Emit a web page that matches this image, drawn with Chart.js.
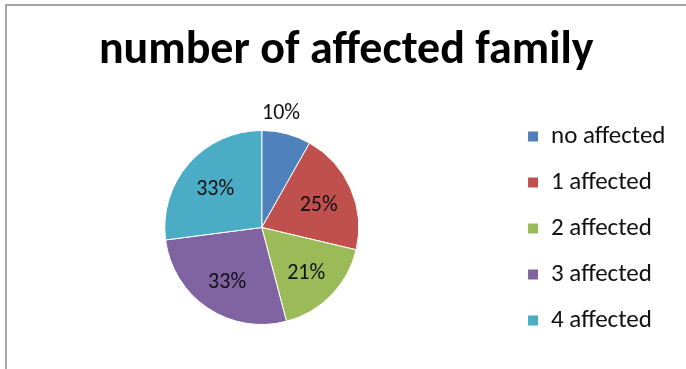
<!DOCTYPE html>
<html>
<head>
<meta charset="utf-8">
<script src="https://cdn.jsdelivr.net/npm/chart.js@4/dist/chart.umd.min.js"></script>
<style>
  html, body { margin: 0; padding: 0; background: #fff; }
  #wrap { position: relative; width: 686px; height: 369px; overflow: hidden; }
  #frame { position: absolute; left: 5px; top: 4px; right: -10px; bottom: -10px;
           border-top: 2px solid #a5a5a5; border-left: 2px solid #a5a5a5; }
  canvas { position: absolute; left: 0; top: 0; }
</style>
</head>
<body>
<div id="wrap">
  <div id="frame"></div>
  <canvas id="chart" width="686" height="369"></canvas>
</div>
<script>
// Families grouped by how many members were affected
const categories = ['no affected', '1 affected', '2 affected', '3 affected', '4 affected'];
const percents = [10, 25, 21, 33, 33];
const sliceColors = ['#4F81BD', '#C0504D', '#9BBB59', '#8064A2', '#4BACC6'];
const chartTitle = 'number of affected family';

const FONT = "Carlito, Calibri, Lato, 'Open Sans', sans-serif";

// Value labels: inside the slice, or just outside the rim for a narrow slice
const labelPlacement = ['outside', 'inside', 'inside', 'inside', 'inside'];

const pieLabels = {
  id: 'pieLabels',
  afterDatasetsDraw(chart) {
    const ctx = chart.ctx;
    const meta = chart.getDatasetMeta(0);
    ctx.save();
    ctx.font = '22px ' + FONT;
    ctx.fillStyle = '#111';
    meta.data.forEach((arc, i) => {
      const p = arc.getProps(['x', 'y', 'startAngle', 'endAngle', 'outerRadius'], true);
      const mid = (p.startAngle + p.endAngle) / 2;
      const text = percents[i] + '%';
      if (labelPlacement[i] === 'outside') {
        const d = p.outerRadius + 10;
        ctx.textAlign = 'center';
        ctx.textBaseline = 'bottom';
        ctx.fillText(text, p.x + Math.cos(mid) * d - 8, p.y + Math.sin(mid) * d);
      } else {
        const d = p.outerRadius * 0.64;
        ctx.textAlign = 'center';
        ctx.textBaseline = 'middle';
        ctx.fillText(text, p.x + Math.cos(mid) * d, p.y + Math.sin(mid) * d + 3);
      }
    });
    ctx.restore();
  }
};

new Chart(document.getElementById('chart'), {
  type: 'pie',
  data: {
    labels: categories,
    datasets: [{
      data: percents,
      backgroundColor: sliceColors,
      borderColor: '#ffffff',
      borderWidth: 1,
      radius: 97
    }]
  },
  options: {
    responsive: false,
    animation: false,
    layout: { padding: { left: 17, right: 10.5, top: 0, bottom: 15 } },
    plugins: {
      title: {
        display: true,
        text: chartTitle,
        color: '#000',
        font: { family: FONT, size: 46, weight: 'bold' },
        padding: { top: 24, bottom: 21.8 }
      },
      legend: {
        position: 'right',
        align: 'end',
        labels: {
          color: '#111',
          font: { family: FONT, size: 25 },
          boxWidth: 11,
          boxHeight: 11,
          padding: 21
        }
      },
      tooltip: { enabled: false }
    }
  },
  plugins: [pieLabels]
});
</script>
</body>
</html>
